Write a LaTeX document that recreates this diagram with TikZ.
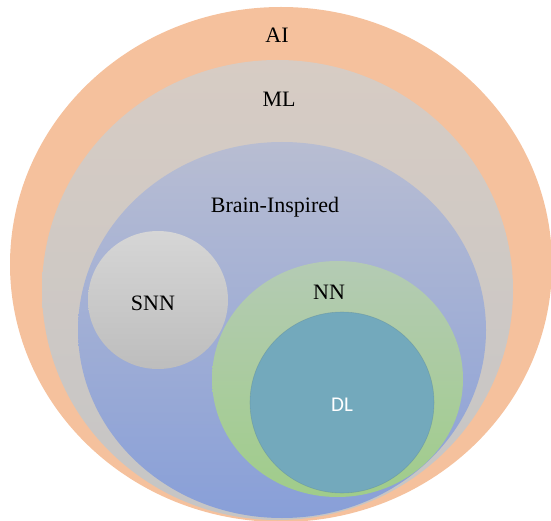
\documentclass[tikz,border=0pt]{standalone}
\usepackage{fontspec}
\setmainfont{Liberation Serif}
\newfontfamily\calfont{Carlito}

\definecolor{aiorange}{RGB}{245,193,157}
\definecolor{mltop}{RGB}{215,204,196}
\definecolor{mlbottom}{RGB}{197,197,197}
\definecolor{bitop}{RGB}{184,189,210}
\definecolor{bibottom}{RGB}{136,159,216}
\definecolor{snntop}{RGB}{214,214,214}
\definecolor{snnbottom}{RGB}{189,189,189}
\definecolor{nntop}{RGB}{180,203,180}
\definecolor{nnbottom}{RGB}{160,204,138}
\definecolor{dlblue}{RGB}{115,169,188}

\tikzset{
    setlabel/.style={font=\fontsize{22}{26}\selectfont, text=black, inner sep=0pt},
    rim/.style={draw=dlblue!80!black, draw opacity=0.4, line width=0.6pt}
}

\begin{document}
\begin{tikzpicture}[x=1pt, y=-1pt]
    % Page frame
    \useasboundingbox (0,0) rectangle (551,521);
    \clip (0,0) rectangle (551,521);

    % AI
    \fill[aiorange] (281,264.5) ellipse [x radius=271, y radius=257.5];

    % ML
    \shade[top color=mltop, bottom color=mlbottom] (277.5,290) ellipse [x radius=235.5, y radius=230];

    % Brain-Inspired
    \shade[top color=bitop, bottom color=bibottom] (282,330) ellipse [x radius=204, y radius=188];

    % SNN
    \shade[top color=snntop, bottom color=snnbottom] (158,300) ellipse [x radius=70, y radius=69];

    % NN
    \shade[top color=nntop, bottom color=nnbottom] (337.5,379) ellipse [x radius=125.5, y radius=118];

    % DL
    \fill[dlblue] (342,402.5) ellipse [x radius=92, y radius=90.5];
    \draw[rim] (342,402.5) ellipse [x radius=92, y radius=90.5];

    % Labels
    \node[setlabel] (ai) at (277,35) {AI};
    \node[setlabel] (ml) at (279,99) {ML};
    \node[setlabel] (bi) at (275,207) {Brain-Inspired};
    \node[setlabel] (snn) at (153,303) {SNN};
    \node[setlabel] (nn) at (329,292) {NN};
    \node[setlabel, font=\calfont\fontsize{21}{25}\selectfont, text=white] (dl) at (342,405) {DL};
\end{tikzpicture}
\end{document}
